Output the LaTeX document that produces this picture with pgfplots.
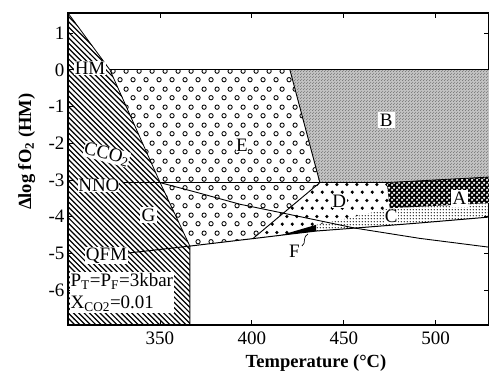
\documentclass[border=0pt]{standalone}
\usepackage{fontspec}
\setmainfont{Liberation Serif}
\usepackage{pgfplots}
\pgfplotsset{compat=1.18}
\usetikzlibrary{patterns}

\pgfdeclarepatternformonly{hatchNW}{\pgfqpoint{-1pt}{-1pt}}{\pgfqpoint{6.3pt}{6.3pt}}{\pgfqpoint{5.3pt}{5.3pt}}{%
 \pgfsetlinewidth{1.2pt}%
 \pgfpathmoveto{\pgfqpoint{-0.1pt}{5.4pt}}%
 \pgfpathlineto{\pgfqpoint{5.4pt}{-0.1pt}}%
 \pgfusepath{stroke}}
\pgfdeclarepatternformonly{opencirc}{\pgfqpoint{0pt}{0pt}}{\pgfqpoint{13pt}{18pt}}{\pgfqpoint{13pt}{18pt}}{%
 \pgfsetlinewidth{0.9pt}%
 \pgfpathcircle{\pgfqpoint{3.25pt}{4.5pt}}{2.3pt}%
 \pgfpathcircle{\pgfqpoint{9.75pt}{13.5pt}}{2.3pt}%
 \pgfusepath{stroke}}
\pgfdeclarepatternformonly{filldots}{\pgfqpoint{0pt}{0pt}}{\pgfqpoint{10pt}{16pt}}{\pgfqpoint{10pt}{16pt}}{%
 \pgfpathcircle{\pgfqpoint{2.5pt}{4pt}}{1.9pt}%
 \pgfpathcircle{\pgfqpoint{7.5pt}{12pt}}{1.9pt}%
 \pgfusepath{fill}}
\pgfdeclarepatternformonly{finedots}{\pgfqpoint{0pt}{0pt}}{\pgfqpoint{3.2pt}{3.2pt}}{\pgfqpoint{3.2pt}{3.2pt}}{%
 \pgfpathcircle{\pgfqpoint{1.6pt}{1.6pt}}{0.8pt}%
 \pgfusepath{fill}}
\pgfdeclarepatternformonly{whitedots}{\pgfqpoint{0pt}{0pt}}{\pgfqpoint{4.6pt}{4.6pt}}{\pgfqpoint{4.6pt}{4.6pt}}{%
 \pgfpathcircle{\pgfqpoint{1.15pt}{1.15pt}}{1.35pt}%
 \pgfpathcircle{\pgfqpoint{3.45pt}{3.45pt}}{1.35pt}%
 \pgfusepath{fill}}
\pgfdeclarepatternformonly{speckle}{\pgfqpoint{0pt}{0pt}}{\pgfqpoint{3pt}{3pt}}{\pgfqpoint{3pt}{3pt}}{%
 \pgfpathcircle{\pgfqpoint{0.75pt}{0.75pt}}{0.6pt}%
 \pgfpathcircle{\pgfqpoint{2.25pt}{2.25pt}}{0.6pt}%
 \pgfusepath{fill}}

\newcommand{\lbl}{\fontsize{19}{22}\selectfont}

\begin{document}
\begin{tikzpicture}
\begin{axis}[name=ax, scale only axis, width=421pt, height=312pt,
 xmin=300, xmax=529, ymin=-6.95, ymax=1.55,
 xtick={350,400,450,500}, xticklabels={350,400,450,500},
 ytick={-6,-5,-4,-3,-2,-1,0,1}, yticklabels={-6,-5,-4,-3,-2,-1,0,1},
 ticklabel style={font=\lbl},
 xticklabel style={yshift=-3pt},
 tick align=inside, major tick length=5pt,
 tick style={line width=0.8pt, black},
 axis line style={line width=1.1pt},
 xlabel={Temperature (°C)},
 ylabel={Δlog fO\textsubscript{2} (HM)},
 label style={font=\fontsize{18.5}{22}\selectfont\bfseries},
 xlabel style={at={(axis description cs:0.589,-0.122)}, anchor=center},
 ylabel style={at={(axis description cs:-0.098,0.555)}, anchor=center},
 ]
% regions
\addplot[draw=none, pattern=hatchNW] coordinates {(300,1.55) (322.8,0) (350,-3.06) (366.3,-4.80) (366.3,-6.95) (300,-6.95)} -- cycle;
\addplot[draw=none, pattern=opencirc] coordinates {(322.8,0) (420.7,0) (437,-3.07) (400.5,-4.60) (366.3,-4.80) (350,-3.06)} -- cycle;
\addplot[draw=none, fill=black!24] coordinates {(420.7,0) (529,0) (529,-2.92) (473.4,-3.07) (437,-3.07)} -- cycle;
\addplot[draw=none, pattern=speckle, pattern color=black!60] coordinates {(420.7,0) (529,0) (529,-2.92) (473.4,-3.07) (437,-3.07)} -- cycle;
\addplot[draw=none, fill=black] coordinates {(473.4,-3.07) (529,-2.92) (529,-3.63) (475,-3.77)} -- cycle;
\addplot[draw=none, pattern=whitedots, pattern color=white] coordinates {(473.4,-3.07) (529,-2.92) (529,-3.63) (475,-3.77)} -- cycle;
\addplot[draw=none, pattern=filldots] coordinates {(437,-3.07) (473.4,-3.07) (475,-3.77) (447.8,-4.09) (435,-4.22) (435,-4.39) (400.5,-4.60)} -- cycle;
\addplot[draw=none, pattern=finedots] coordinates {(435,-4.39) (456,-4.31) (491.3,-4.17) (529,-4.01) (529,-3.63) (475,-3.77) (447.8,-4.09) (435,-4.22)} -- cycle;
\addplot[draw=none, fill=black] coordinates {(416,-4.50) (435,-4.39) (435,-4.22)} -- cycle;
% lines
\addplot[black, line width=0.8pt] coordinates {(300,1.55) (322.8,0) (350,-3.06) (366.3,-4.80) (366.3,-6.95)};
\addplot[black, line width=1.1pt] coordinates {(322.8,0) (529,0)};
\addplot[black, line width=1.1pt] coordinates {(330,-3.07) (473.4,-3.07)};
\addplot[black, line width=0.8pt] coordinates {(473.4,-3.07) (529,-2.92)};
\addplot[black, line width=1.0pt] coordinates {(332.6,-4.99) (366.3,-4.80) (400,-4.60) (435,-4.39) (456,-4.31) (491.3,-4.17) (529,-4.01)};
\addplot[black, line width=0.9pt] coordinates {(350,-3.07) (371.7,-3.36) (393.5,-3.66) (416.8,-3.90) (456,-4.31) (491.3,-4.59) (529,-4.83)};
\addplot[black, line width=0.9pt] coordinates {(400.5,-4.60) (437,-3.07)};
\addplot[black, line width=0.9pt] coordinates {(420.7,0) (437,-3.07)};
\draw[line width=0.7pt] (axis cs:427.2,-4.80) .. controls (axis cs:430,-4.7) and (axis cs:427,-4.6) .. (axis cs:430.5,-4.47);
% labels
\node[font=\lbl, fill=white, inner sep=1pt] at (axis cs:312,0.05) {HM};
\node[font=\lbl, fill=white, inner sep=0pt, rotate=-15] at (axis cs:321,-2.30) {CCO\textsubscript{2}};
\node[font=\lbl, fill=white, inner sep=0pt] at (axis cs:316.8,-3.14) {NNO};
\node[font=\lbl, fill=white, inner sep=1.5pt] at (axis cs:343.8,-3.95) {G};
\node[font=\lbl, fill=white, inner sep=0.5pt] at (axis cs:320.9,-5.06) {QFM};
\node[font=\lbl, fill=white, inner sep=0.5pt] at (axis cs:394.6,-2.05) {E};
\node[font=\lbl, fill=white, inner sep=2pt] at (axis cs:473.1,-1.37) {B};
\node[font=\lbl, fill=white, inner sep=0.5pt] at (axis cs:447.6,-3.59) {D};
\node[font=\lbl, fill=white, inner sep=2pt] at (axis cs:513,-3.51) {A};
\node[font=\lbl, fill=white, inner sep=0.3pt] at (axis cs:475.8,-3.99) {C};
\node[font=\lbl] at (axis cs:423.1,-4.95) {F};
\node[font=\lbl, fill=white, inner sep=1pt, align=left, anchor=north west] at (axis cs:300.8,-5.51) {P\textsubscript{T}=P\textsubscript{F}=3kbar\\X\textsubscript{CO2}=0.01};
\end{axis}
\pgfresetboundingbox
\path ([shift={(-68pt,-47pt)}]ax.south west) rectangle ([shift={(0pt,13pt)}]ax.north east);
\end{tikzpicture}
\end{document}
